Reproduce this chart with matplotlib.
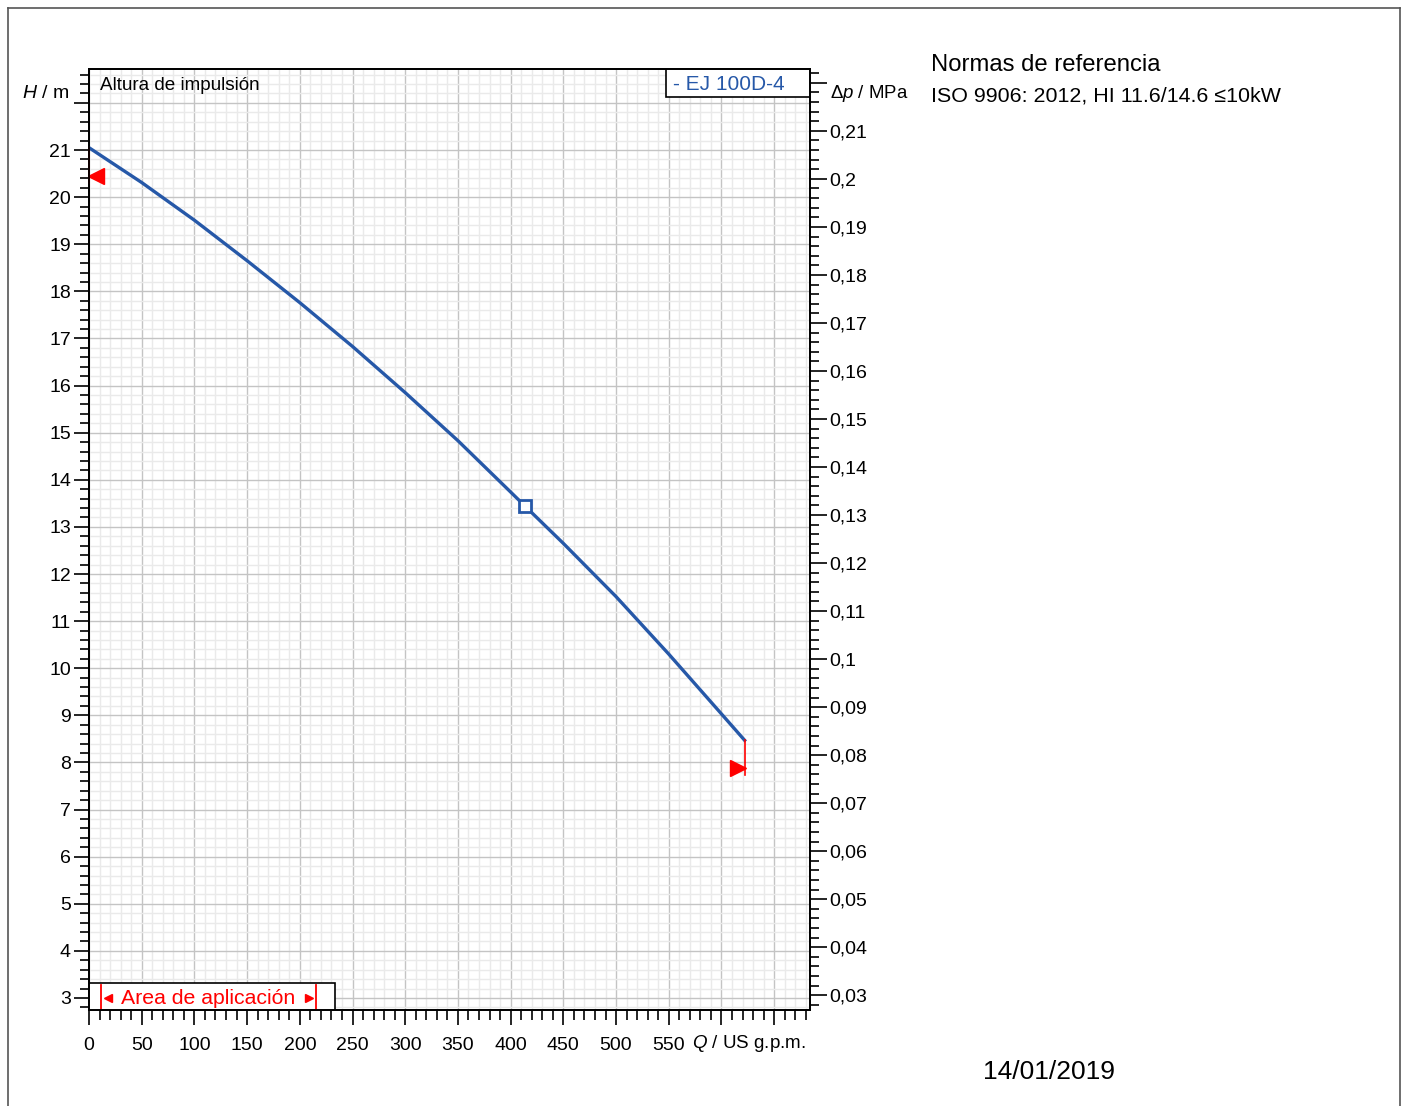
import matplotlib
matplotlib.use("Agg")
import matplotlib.pyplot as plt
from matplotlib.lines import Line2D
from matplotlib.patches import Rectangle
import numpy as np

plt.rcParams['font.family'] = ['Liberation Sans', 'DejaVu Sans']
plt.rcParams['mathtext.fontset'] = 'custom'
plt.rcParams['mathtext.rm'] = 'Liberation Sans'
plt.rcParams['mathtext.it'] = 'Liberation Sans:italic'

# pump curve (Q in US gpm, H in m)
flow = [0, 50, 100, 150, 200, 250, 300, 350, 400, 413.7, 450, 500, 550, 600, 622]
head = [21.05, 20.31, 19.51, 18.65, 17.76, 16.83, 15.85, 14.83, 13.74, 13.44,
        12.65, 11.52, 10.30, 9.03, 8.47]

duty_q = [413.7]
duty_h = [13.44]

# limits of the application range
range_left_q = [7]
range_left_h = [20.45]
range_right_q = [616]
range_right_h = [7.88]
bar_left_q = [0, 0]
bar_left_h = [21.05, 20.30]
bar_right_q = [622, 622]
bar_right_h = [8.47, 7.73]

x_ticks = list(range(0, 651, 50))
x_labels = [str(v) for v in range(0, 551, 50)] + ['', '']
h_ticks = list(range(3, 23))
h_labels = [str(v) for v in range(3, 22)] + ['']
p_ticks = [round(0.03 + 0.01 * i, 2) for i in range(20)]
p_labels = [('%.2f' % v).rstrip('0').replace('.', ',') for v in p_ticks[:-1]] + ['']

M_TO_MPA = 0.00981
W, H = 1401, 1106
xlim = (0, 684)
ylim = (2.745, 22.72)
PX = 0.72  # points per pixel at 100 dpi

fig = plt.figure(figsize=(W / 100, H / 100), dpi=100)
ax = fig.add_axes([89 / W, 1 - 1010 / H, 721 / W, 941 / H])
ax.set_xlim(*xlim)
ax.set_ylim(*ylim)

ax.set_xticks(x_ticks)
ax.set_xticklabels(x_labels)
ax.set_xticks(np.arange(0, 681, 10), minor=True)
ax.set_yticks(h_ticks)
ax.set_yticklabels(h_labels)
ax.set_yticks(np.arange(2.8, 22.75, 0.2), minor=True)

ax.set_axisbelow(True)
ax.grid(which='minor', color='#eaeaea', lw=1.0)
ax.grid(which='major', color='#c4c4c4', lw=1.0)

ax.tick_params(which='major', length=15 * PX, width=1.2, labelsize=14, direction='out')
ax.tick_params(which='minor', length=9 * PX, width=1.2, direction='out')
ax.tick_params(axis='x', which='major', pad=9)
ax.tick_params(axis='x', which='minor', length=10 * PX)
ax.tick_params(axis='y', which='major', pad=3 * PX)
for s in ax.spines.values():
    s.set_linewidth(1.3)

ax2 = ax.twinx()
ax2.set_ylim(ylim[0] * M_TO_MPA, ylim[1] * M_TO_MPA)
ax2.set_yticks(p_ticks)
ax2.set_yticklabels(p_labels)
ax2.set_yticks(np.arange(0.028, 0.2225, 0.002), minor=True)
ax2.tick_params(which='major', length=17 * PX, width=1.2, labelsize=14, pad=2 * PX)
ax2.tick_params(which='minor', length=9 * PX, width=1.2)
for s in ax2.spines.values():
    s.set_linewidth(1.3)

# curve and markers
ax.plot(flow, head, color='#2658a8', lw=2.4, zorder=4, solid_joinstyle='round')
ax.plot(duty_q, duty_h, marker='s', ms=8, mfc='white', mec='#2658a8', mew=2, ls='none', zorder=5)
ax.plot(bar_left_q, bar_left_h, color='#b00000', lw=1.2, zorder=5, clip_on=False)
ax.plot(bar_right_q, bar_right_h, color='red', lw=1.2, zorder=5)
ax.plot(range_left_q, range_left_h, marker='<', ms=11, color='red', ls='none', zorder=6)
ax.plot(range_right_q, range_right_h, marker='>', ms=11, color='red', ls='none', zorder=6)

# texts inside the plot
ax.text(11 / 721, 1 - 17 / 941, 'Altura de impulsión', transform=ax.transAxes,
        fontsize=13.6, ha='left', va='center')
ax.add_patch(Rectangle((577 / 721, 1 - 28 / 941), 144 / 721, 28 / 941, transform=ax.transAxes,
                       facecolor='white', edgecolor='black', lw=1.2, zorder=6))
ax.text(584 / 721, 1 - 16 / 941, '- EJ 100D-4', transform=ax.transAxes,
        fontsize=15, color='#2658a8', ha='left', va='center', zorder=7)

ax.add_patch(Rectangle((0, 0), 246 / 721, 27 / 941, transform=ax.transAxes,
                       facecolor='white', edgecolor='black', lw=1.2, zorder=6))
for xb in (11.5, 226.5):
    ax.plot([xb / 721, xb / 721], [0, 25 / 941], transform=ax.transAxes, color='red', lw=1.3, zorder=7)
ax.plot([19 / 721], [12 / 941], transform=ax.transAxes, marker='<', ms=6, color='red', zorder=7)
ax.plot([220 / 721], [12 / 941], transform=ax.transAxes, marker='>', ms=6, color='red', zorder=7)
ax.text(32 / 721, 11 / 941, 'Area de aplicación', transform=ax.transAxes,
        fontsize=15.3, color='red', ha='left', va='center', zorder=7)

# axis captions
fig.text(22 / W, 1 - 93 / H, r'$\it{H}$ / m', fontsize=14, ha='left', va='center')
fig.text(830 / W, 1 - 93 / H, r'$\it{\Delta p}$ / MPa', fontsize=13.4, ha='left', va='center')
fig.text(692 / W, 1 - 1044 / H, r'$\it{Q}$ / US g.p.m.', fontsize=13.5, ha='left', va='center')

fig.text(931 / W, 1 - 65 / H, 'Normas de referencia', fontsize=17.2, ha='left', va='center')
fig.text(931 / W, 1 - 96 / H, 'ISO 9906: 2012, HI 11.6/14.6 ≤10kW', fontsize=15.4, ha='left', va='center')
fig.text(983 / W, 1 - 1072 / H, '14/01/2019', fontsize=19, ha='left', va='center')

# outer frame of the sheet
fc = '#555555'
fig.add_artist(Line2D([8 / W, 8 / W], [0, 1 - 8 / H], color=fc, lw=1.2))
fig.add_artist(Line2D([8 / W, 1400 / W], [1 - 8 / H, 1 - 8 / H], color=fc, lw=1.2))
fig.add_artist(Line2D([1400 / W, 1400 / W], [0, 1 - 8 / H], color=fc, lw=1.2))

fig.savefig('out.png', dpi=100)
